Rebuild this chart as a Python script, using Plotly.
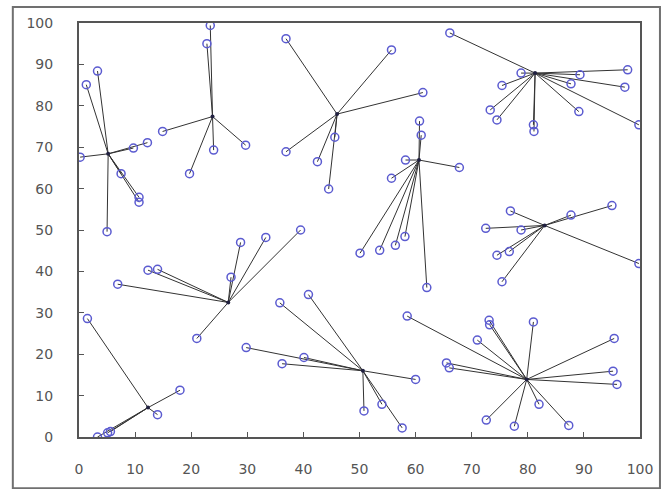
import plotly.graph_objects as go

# Cluster centres
center_x = [5.2, 23.8, 46.0, 60.6, 81.3, 83.0, 79.8, 50.6, 26.6, 12.3]
center_y = [68.4, 77.4, 78.0, 66.9, 87.9, 51.1, 13.9, 16.0, 32.5, 7.1]

# Member points of each cluster
pts_x = [
    [0.2, 1.3, 3.3, 5.0, 7.5, 9.7, 12.2, 10.7, 10.7],
    [23.4, 22.8, 14.9, 19.7, 24.0, 29.7],
    [36.9, 55.7, 61.3, 36.9, 42.5, 45.6, 44.5],
    [60.7, 61.0, 58.2, 55.7, 67.8, 50.1, 53.6, 56.4, 58.1, 62.0],
    [66.1, 78.8, 75.4, 73.3, 74.5, 81.0, 81.1, 89.1, 87.7, 89.3, 97.8, 97.3, 99.8],
    [76.9, 72.5, 78.8, 87.7, 95.0, 99.8, 74.5, 76.7, 75.4],
    [73.1, 73.2, 81.0, 71.0, 95.4, 65.5, 66.0, 95.2, 95.9, 82.0, 72.6, 77.6, 87.3, 58.5],
    [35.8, 40.9, 29.8, 40.1, 36.2, 60.0, 50.8, 54.0, 57.6],
    [12.3, 14.0, 6.9, 21.0, 27.1, 28.8, 33.3, 39.5],
    [1.5, 18.0, 14.0, 5.1, 3.3, 5.6],
]
pts_y = [
    [67.6, 85.1, 88.4, 49.6, 63.6, 69.8, 71.1, 57.9, 56.7],
    [99.4, 95.0, 73.8, 63.6, 69.3, 70.5],
    [96.2, 93.5, 83.2, 68.9, 66.5, 72.4, 59.9],
    [76.3, 72.9, 66.9, 62.5, 65.1, 44.4, 45.1, 46.3, 48.4, 36.1],
    [97.6, 87.9, 84.9, 79.0, 76.6, 75.4, 73.8, 78.6, 85.3, 87.5, 88.7, 84.5, 75.4],
    [54.6, 50.4, 50.0, 53.6, 55.9, 41.9, 43.9, 44.8, 37.5],
    [28.2, 27.1, 27.8, 23.4, 23.8, 17.9, 16.7, 15.9, 12.7, 7.9, 4.1, 2.6, 2.8, 29.2],
    [32.4, 34.4, 21.6, 19.2, 17.7, 13.9, 6.3, 7.9, 2.2],
    [40.3, 40.5, 36.9, 23.8, 38.6, 47.0, 48.2, 50.0],
    [28.6, 11.3, 5.4, 1.0, 0.0, 1.3],
]

x_ticks = list(range(0, 101, 10))
y_ticks = list(range(0, 101, 10))

# Build connecting segments from data
lx, ly = [], []
for cx, cy, xs, ys in zip(center_x, center_y, pts_x, pts_y):
    for px, py in zip(xs, ys):
        lx += [cx, px, None]
        ly += [cy, py, None]

all_x = [v for xs in pts_x for v in xs]
all_y = [v for ys in pts_y for v in ys]

fig = go.Figure()
fig.add_trace(go.Scatter(x=lx, y=ly, mode="lines",
                         line=dict(color="#333333", width=1), hoverinfo="skip"))
fig.add_trace(go.Scatter(x=all_x, y=all_y, mode="markers",
                         marker=dict(symbol="circle-open", size=8, color="#5b5bd0",
                                     line=dict(width=1.5, color="#5b5bd0"))))
fig.add_trace(go.Scatter(x=center_x, y=center_y, mode="markers",
                         marker=dict(symbol="circle", size=4, color="#202040")))

axis_common = dict(showgrid=False, zeroline=False, showline=True, mirror=True,
                   linecolor="#555555", linewidth=2, ticks="inside", ticklen=5,
                   tickcolor="#555555", tickfont=dict(family="DejaVu Sans", size=14, color="#555555"))

L, T, PW, PH = 79, 23, 562, 420
fig.update_layout(
    width=665, height=489,
    margin=dict(l=L, r=665 - L - PW, t=T, b=489 - T - PH),
    paper_bgcolor="white", plot_bgcolor="white",
    showlegend=False,
    xaxis=dict(range=[0, 100], tickvals=x_ticks, ticklabelstandoff=18, **axis_common),
    yaxis=dict(range=[0, 100], tickvals=y_ticks, ticklabelstandoff=21, **axis_common),
    shapes=[dict(type="rect", xref="paper", yref="paper",
                 x0=(12.7 - L) / PW, x1=(661 - L) / PW,
                 y0=(T + PH - 495) / PH, y1=(T + PH - 6.7) / PH,
                 line=dict(color="#707070", width=2), fillcolor="rgba(0,0,0,0)", layer="above")],
)

fig.write_html("out.html", config={"displayModeBar": False},
               post_script="document.body.style.margin='0px';")
